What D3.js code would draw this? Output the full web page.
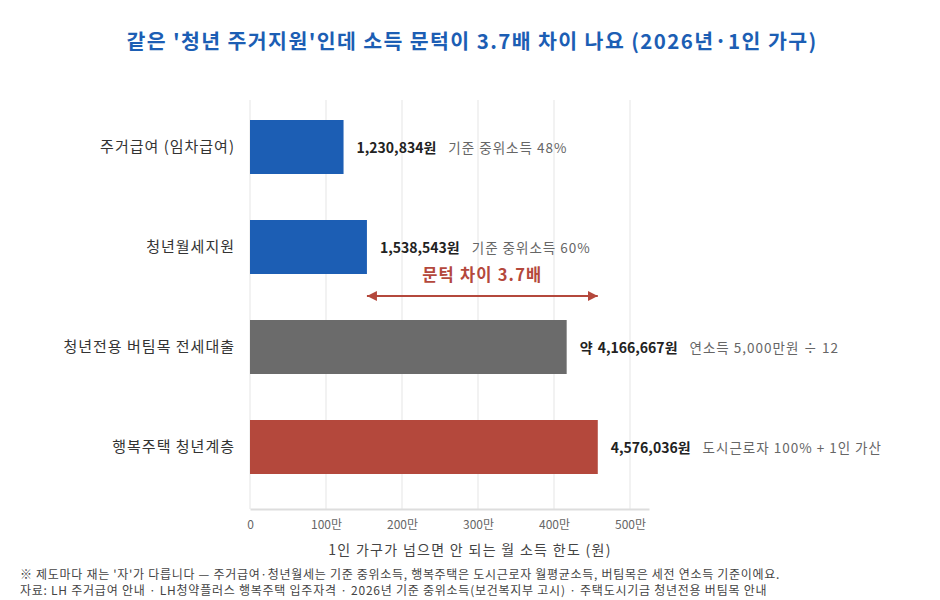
<!DOCTYPE html>
<html>
<head>
<meta charset="utf-8">
<script src="https://cdn.jsdelivr.net/npm/d3@7"></script>
<style>
  body { margin: 0; background: #fff; }
  svg text { font-family: "Noto Sans CJK KR", "Noto Sans", sans-serif; }
</style>
</head>
<body>
<div id="chart"></div>
<script>
// datos
const programs = ["주거급여 (임차급여)", "청년월세지원", "청년전용 버팀목 전세대출", "행복주택 청년계층"]
const limits = [1230834, 1538543, 4166667, 4576036]
const valueLabels = ["1,230,834원", "1,538,543원", "약 4,166,667원", "4,576,036원"]
const notes = ["기준 중위소득 48%", "기준 중위소득 60%", "연소득 5,000만원 ÷ 12", "도시근로자 100% + 1인 가산"]
const barColors = ["#1c5eb4", "#1c5eb4", "#6b6b6b", "#b4483c"]
const tickValues = [0, 1000000, 2000000, 3000000, 4000000, 5000000]
const tickLabels = ["0", "100만", "200만", "300만", "400만", "500만"]

const width = 940
const height = 600
const margin = { top: 100, left: 250, right: 291, bottom: 91 }
const axisY = 509

const svg = d3.select("#chart").append("svg").attr("width", width).attr("height", height)

// escalas
const x = d3.scaleLinear().domain([0, 5250000]).range([margin.left, width - margin.right])
const y = d3.scaleBand().domain(programs).range([margin.top, 494]).paddingInner(0.46).paddingOuter(0.2)

// titulo
svg.append("text")
  .attr("x", 472).attr("y", 49)
  .attr("text-anchor", "middle")
  .attr("font-size", 20.5).attr("font-weight", "bold")
  .attr("letter-spacing", 1.4)
  .attr("fill", "#1c5eb4")
  .text("같은 '청년 주거지원'인데 소득 문턱이 3.7배 차이 나요 (2026년·1인 가구)")

// grid
svg.append("g").selectAll("line").data(tickValues)
  .join("line")
    .attr("x1", d => x(d)).attr("x2", d => x(d))
    .attr("y1", margin.top).attr("y2", axisY)
    .attr("stroke", "#f2f2f2").attr("stroke-width", 2)

// eje x
const xAxis = d3.axisBottom(x).tickValues(tickValues).tickFormat((d, i) => tickLabels[i]).tickSize(0).tickPadding(11)
const xAxisGroup = svg.append("g").attr("transform", `translate(0, ${axisY})`).call(xAxis)
xAxisGroup.select(".domain").attr("stroke", "#dddddd").attr("stroke-width", 2)
xAxisGroup.selectAll("text").attr("font-size", 12).attr("fill", "#666")
  .style("font-family", '"Noto Sans CJK KR", sans-serif')

svg.append("text")
  .attr("x", 470).attr("y", 555)
  .attr("text-anchor", "middle").attr("font-size", 14).attr("fill", "#444")
  .attr("letter-spacing", 1.3)
  .text("1인 가구가 넘으면 안 되는 월 소득 한도 (원)")

// eje y (etiquetas)
const yAxis = d3.axisLeft(y).tickSize(0).tickPadding(15)
const yAxisGroup = svg.append("g").attr("transform", `translate(${x(0)}, 0)`).call(yAxis)
yAxisGroup.select(".domain").remove()
yAxisGroup.selectAll("text").attr("font-size", 15).attr("fill", "#333")
  .attr("letter-spacing", 1)
  .style("font-family", '"Noto Sans CJK KR", sans-serif')

// barras
svg.append("g").selectAll("rect").data(programs)
  .join("rect")
    .attr("x", x(0))
    .attr("y", d => y(d))
    .attr("width", (d, i) => x(limits[i]) - x(0))
    .attr("height", y.bandwidth())
    .attr("fill", (d, i) => barColors[i])

// etiquetas de valor
const labels = svg.append("g").selectAll("text").data(programs)
  .join("text")
    .attr("x", (d, i) => x(limits[i]) + 13)
    .attr("y", d => y(d) + y.bandwidth() / 2)
    .attr("dy", "0.35em")
labels.append("tspan")
  .attr("font-size", 14).attr("font-weight", "bold").attr("fill", "#222")
  .attr("word-spacing", 2)
  .text((d, i) => valueLabels[i])
labels.append("tspan")
  .attr("dx", 12)
  .attr("font-size", 13.5).attr("fill", "#666").attr("letter-spacing", 1)
  .text((d, i) => notes[i])

// flecha de diferencia
const defs = svg.append("defs")
defs.append("marker").attr("id", "arrowEnd")
  .attr("viewBox", "0 0 10 10").attr("refX", 10).attr("refY", 5)
  .attr("markerWidth", 5).attr("markerHeight", 5).attr("orient", "auto-start-reverse")
  .append("path").attr("d", "M0,0 L10,5 L0,10 Z").attr("fill", "#b4483c")

const arrowY = 296
svg.append("line")
  .attr("x1", x(limits[1])).attr("x2", x(limits[3]))
  .attr("y1", arrowY).attr("y2", arrowY)
  .attr("stroke", "#b4483c").attr("stroke-width", 2)
  .attr("marker-start", "url(#arrowEnd)").attr("marker-end", "url(#arrowEnd)")

svg.append("text")
  .attr("x", (x(limits[1]) + x(limits[3])) / 2).attr("y", 281)
  .attr("text-anchor", "middle").attr("font-size", 16.5).attr("font-weight", "bold")
  .attr("letter-spacing", 1.2)
  .attr("fill", "#b4483c")
  .text("문턱 차이 3.7배")

// notas
svg.append("text").attr("x", 20).attr("y", 579).attr("font-size", 12).attr("fill", "#444")
  .attr("letter-spacing", 0.7)
  .text("※ 제도마다 재는 '자'가 다릅니다 — 주거급여·청년월세는 기준 중위소득, 행복주택은 도시근로자 월평균소득, 버팀목은 세전 연소득 기준이에요.")
svg.append("text").attr("x", 20).attr("y", 595).attr("font-size", 12).attr("fill", "#444")
  .attr("letter-spacing", 0.75)
  .text("자료: LH 주거급여 안내 · LH청약플러스 행복주택 입주자격 · 2026년 기준 중위소득(보건복지부 고시) · 주택도시기금 청년전용 버팀목 안내")
</script>
</body>
</html>
